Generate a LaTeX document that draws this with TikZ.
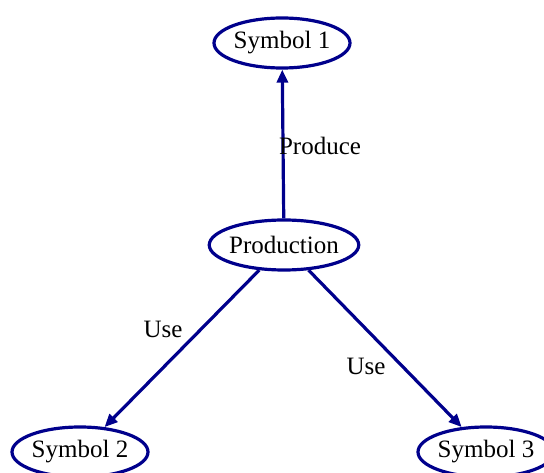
\documentclass[tikz,border=0pt]{standalone}
\usepackage{fontspec}
\setmainfont{Liberation Serif}
\usetikzlibrary{shapes.geometric,arrows.meta}
\definecolor{edgeblue}{RGB}{0,0,140}
\tikzset{
  sym/.style={ellipse, draw=edgeblue, line width=3.2pt, inner ysep=0pt, inner xsep=-1pt,
    minimum width=136pt, minimum height=50pt, font=\fontsize{25}{25}\selectfont},
  link/.style={draw=edgeblue, line width=3.2pt,
    -{Triangle[length=13pt,width=11pt]}},
  lbl/.style={font=\fontsize{25}{25}\selectfont, inner sep=0pt}
}
\begin{document}
\begin{tikzpicture}[x=1pt,y=-1pt]
  \useasboundingbox (0,0) rectangle (544,473);
  \node[sym] (s1) at (282,43) {Symbol 1};
  \node[sym, inner xsep=-2pt] (prod) at (284,245) {Production};
  \node[sym] (s2) at (80,452) {Symbol 2};
  \node[sym] (s3) at (486,452) {Symbol 3};
  \draw[link] (prod) -- (s1);
  \draw[link] (prod) -- (s2);
  \draw[link] (prod) -- (s3);
  \node[lbl] (lp) at (320,146) {Produce};
  \node[lbl] (lu1) at (163,329) {Use};
  \node[lbl] (lu2) at (366,366) {Use};
\end{tikzpicture}
\end{document}
